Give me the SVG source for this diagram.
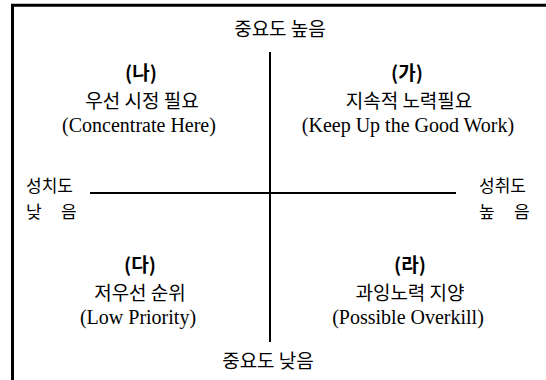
<svg xmlns="http://www.w3.org/2000/svg" width="546" height="380" viewBox="0 0 546 380">
<style>
.ko{font-family:"Noto Sans CJK KR","Noto Sans",sans-serif;font-size:19px;fill:#000;text-anchor:middle}
.kb{font-family:"Noto Sans CJK KR","Noto Sans",sans-serif;font-size:19px;font-weight:bold;fill:#000;text-anchor:middle}
.en{font-family:"Liberation Serif","Times New Roman",serif;font-size:20px;fill:#000;text-anchor:middle}
.lab{font-family:"Noto Sans CJK KR","Noto Sans",sans-serif;font-size:17px;fill:#000}
.ax{stroke:#000;stroke-width:2;fill:none}
</style>
<rect width="546" height="380" fill="#fff"/>
<path d="M12.5 380 V5.2 H546" stroke="#000" stroke-width="3" fill="none"/>
<g id="connectors">
<line class="ax" x1="270" y1="52" x2="270" y2="342"/>
<line class="ax" x1="90" y1="193" x2="456" y2="193"/>
</g>
<g id="top-label"><text class="ko" x="280" y="36">중요도 높음</text></g>
<g id="bottom-label"><text class="ko" x="268" y="368">중요도 낮음</text></g>
<g id="left-label">
<text class="lab" x="26" y="192">성치도</text>
<text class="lab" x="26" y="218">낮</text><text class="lab" x="61" y="218">음</text>
</g>
<g id="right-label">
<text class="lab" x="479" y="192">성취도</text>
<text class="lab" x="479" y="218">높</text><text class="lab" x="514" y="218">음</text>
</g>
<g id="quad-na">
<text class="kb" x="141" y="80">(나)</text>
<text class="ko" x="142" y="108">우선 시정 필요</text>
<text class="en" x="139" y="132">(Concentrate Here)</text>
</g>
<g id="quad-ga">
<text class="kb" x="407" y="80">(가)</text>
<text class="ko" x="409" y="108">지속적 노력필요</text>
<text class="en" x="408" y="132">(Keep Up the Good Work)</text>
</g>
<g id="quad-da">
<text class="kb" x="140" y="272">(다)</text>
<text class="ko" x="140" y="300">저우선 순위</text>
<text class="en" x="138" y="324">(Low Priority)</text>
</g>
<g id="quad-ra">
<text class="kb" x="410" y="272">(라)</text>
<text class="ko" x="410" y="300">과잉노력 지양</text>
<text class="en" x="408" y="324">(Possible Overkill)</text>
</g>
</svg>
